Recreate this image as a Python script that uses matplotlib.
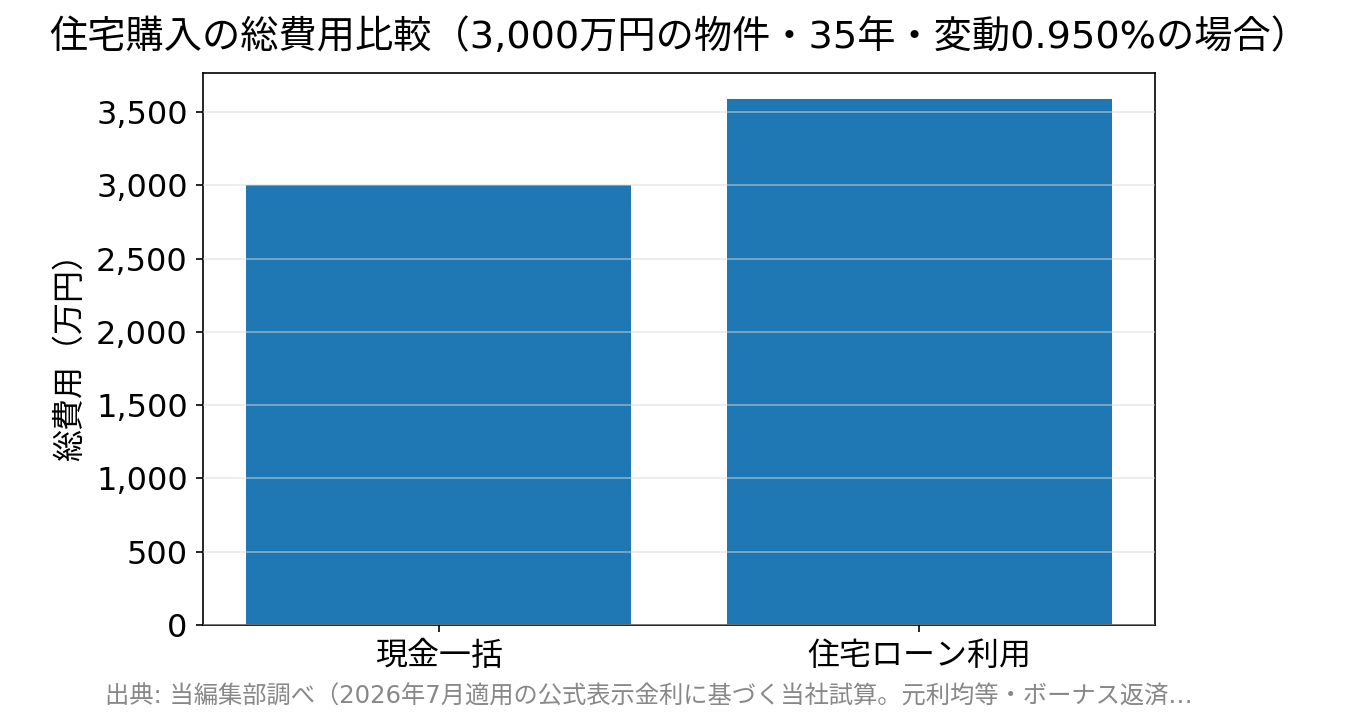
import matplotlib
matplotlib.use("Agg")
import matplotlib.pyplot as plt
from matplotlib.ticker import FuncFormatter

FAM = ['DejaVu Sans', 'Noto Sans CJK JP']
plt.rcParams['font.family'] = FAM

categories = ["現金一括", "住宅ローン利用"]
values = [3000, 3588]
title = "住宅購入の総費用比較（3,000万円の物件・35年・変動0.950%の場合）"
ylabel = "総費用（万円）"
source = "出典: 当編集部調べ（2026年7月適用の公式表示金利に基づく当社試算。元利均等・ボーナス返済…"

fig = plt.figure(figsize=(13.58, 7.25), dpi=100)
ax = fig.add_axes([203/1358, 1-625/725, (1155-203)/1358, (625-73)/725])
ax.bar(categories, values, width=0.8, color="#1f77b4")
ax.set_yticks(range(0, 3501, 500))
ax.yaxis.set_major_formatter(FuncFormatter(lambda v, p: f"{int(v):,}"))
ax.set_axisbelow(False)
ax.grid(axis='y', color='#d9d9d9', alpha=0.55, linewidth=1.2)
ax.tick_params(axis='both', labelsize=23, length=5, width=1.2, pad=6)
for lab in ax.get_xticklabels():
    lab.set_family(['Noto Sans CJK JP', 'DejaVu Sans'])
for s in ax.spines.values():
    s.set_linewidth(1.2)
ax.set_ylabel(ylabel, fontsize=23, family=['Noto Sans CJK JP', 'DejaVu Sans'])
ax.yaxis.set_label_coords((86-203)/(1155-203), 0.5)
fig.text(0.5, 1-38/725, title, fontsize=27.5, ha='center', va='center')
fig.text(105/1358, 1-697/725, source, fontsize=17.5, color='#888888', ha='left', va='center')
fig.savefig("out.png", dpi=100)
